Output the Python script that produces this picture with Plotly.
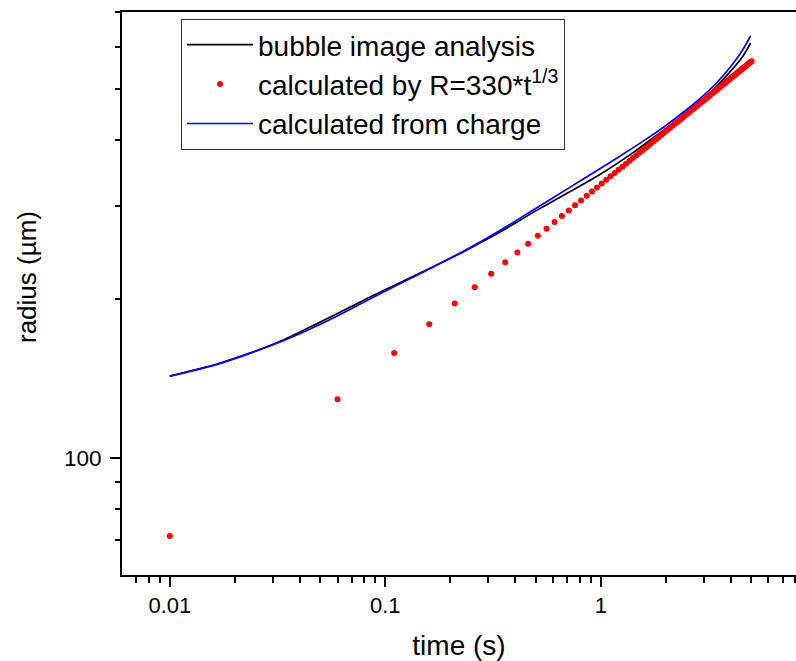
import math
import plotly.graph_objects as go

# ---- data ----
time_image = [0.01, 0.01644, 0.0235, 0.0336, 0.048, 0.0685, 0.0818, 0.1167, 0.1667, 0.2382,
              0.3404, 0.4853, 0.6934, 0.9908, 1.413, 1.690, 2.021, 2.413, 2.884, 3.451,
              4.121, 4.581, 4.961]
radius_image = [142.9, 150.5, 158.0, 167.3, 179.5, 193.0, 200.2, 214.8, 230.3, 247.6,
                267.9, 292.0, 317.0, 344.6, 379.0, 399.9, 421.4, 445.3, 473.0, 506.5,
                547.9, 578.6, 611.5]

time_charge = [0.01, 0.01644, 0.0235, 0.0336, 0.048, 0.0685, 0.0818, 0.1167, 0.1667, 0.2382,
               0.3404, 0.4853, 0.6934, 0.9908, 1.413, 1.690, 2.021, 2.413, 2.884, 3.451,
               4.121, 4.581, 4.961]
radius_charge = [142.9, 150.3, 157.8, 166.7, 177.8, 191.2, 198.6, 213.8, 230.1, 248.3,
                 269.8, 295.1, 322.8, 353.2, 387.3, 406.4, 427.6, 451.9, 479.7, 514.0,
                 559.8, 595.7, 631.0]

time_fit = [0.01, 0.06, 0.11, 0.16, 0.21, 0.26, 0.31, 0.36, 0.41, 0.46,
            0.51, 0.56, 0.61, 0.66, 0.71, 0.76, 0.81, 0.86, 0.91, 0.96,
            1.01, 1.06, 1.11, 1.16, 1.21, 1.26, 1.31, 1.36, 1.41, 1.46,
            1.51, 1.56, 1.61, 1.66, 1.71, 1.76, 1.81, 1.86, 1.91, 1.96,
            2.01, 2.06, 2.11, 2.16, 2.21, 2.26, 2.31, 2.36, 2.41, 2.46,
            2.51, 2.56, 2.61, 2.66, 2.71, 2.76, 2.81, 2.86, 2.91, 2.96,
            3.01, 3.06, 3.11, 3.16, 3.21, 3.26, 3.31, 3.36, 3.41, 3.46,
            3.51, 3.56, 3.61, 3.66, 3.71, 3.76, 3.81, 3.86, 3.91, 3.96,
            4.01, 4.06, 4.11, 4.16, 4.21, 4.26, 4.31, 4.36, 4.41, 4.46,
            4.51, 4.56, 4.61, 4.66, 4.71, 4.76, 4.81, 4.86, 4.91, 4.96,
            5.01]
radius_fit = [71.1, 129.2, 158.1, 179.2, 196.2, 210.6, 223.3, 234.8, 245.2, 254.7,
              263.7, 272.0, 279.9, 287.3, 294.4, 301.1, 307.6, 313.8, 319.8, 325.5,
              331.1, 336.5, 341.7, 346.7, 351.6, 356.4, 361.1, 365.6, 370.0, 374.4,
              378.6, 382.7, 386.8, 390.7, 394.6, 398.4, 402.2, 405.8, 409.4, 413.0,
              416.5, 419.9, 423.3, 426.6, 429.8, 433.1, 436.2, 439.4, 442.4, 445.5,
              448.5, 451.4, 454.3, 457.2, 460.1, 462.9, 465.7, 468.4, 471.1, 473.8,
              476.5, 479.1, 481.7, 484.3, 486.8, 489.3, 491.8, 494.3, 496.7, 499.1,
              501.5, 503.9, 506.2, 508.6, 510.9, 513.1, 515.4, 517.7, 519.9, 522.1,
              524.3, 526.5, 528.6, 530.7, 532.9, 535.0, 537.0, 539.1, 541.2, 543.2,
              545.2, 547.2, 549.2, 551.2, 553.2, 555.1, 557.1, 559.0, 560.9, 562.8,
              564.7]

x_major = [0.01, 0.1, 1]
x_major_text = ["0.01", "0.1", "1"]
x_minor = [0.007, 0.008, 0.009,
           0.02, 0.03, 0.04, 0.05, 0.06, 0.07, 0.08, 0.09,
           0.2, 0.3, 0.4, 0.5, 0.6, 0.7, 0.8, 0.9,
           2, 3, 4, 5, 6, 7, 8]
y_major = [100]
y_major_text = ["100"]
y_minor = [70, 80, 90, 200, 300, 400, 500, 600, 700]

FONT = "Liberation Sans, Arial, sans-serif"

W, H = 796, 661
ML, MR, MT, MB = 122, 0, 12, 86

fig = go.Figure()
fig.add_trace(go.Scatter(x=time_image, y=radius_image, mode="lines",
                         line=dict(color="black", width=1.7, shape="spline", smoothing=0.6),
                         name="bubble image analysis"))
fig.add_trace(go.Scatter(x=time_fit, y=radius_fit, mode="markers",
                         marker=dict(color="#ff0000", size=6, line=dict(width=0)),
                         name="calculated by R=330*t<sup>1/3</sup>"))
fig.add_trace(go.Scatter(x=time_charge, y=radius_charge, mode="lines",
                         line=dict(color="#0000ff", width=1.7, shape="spline", smoothing=0.6),
                         name="calculated from charge"))

plot_w = W - ML - MR
plot_h = H - MT - MB

fig.update_layout(
    width=W, height=H,
    margin=dict(l=ML, r=MR, t=MT, b=MB, autoexpand=False),
    paper_bgcolor="white", plot_bgcolor="white",
    font=dict(family=FONT, color="black"),
    showlegend=True,
    legend=dict(x=(181 - ML) / plot_w, y=(H - MB - 19) / plot_h,
                xanchor="left", yanchor="top",
                bgcolor="white", bordercolor="#333333", borderwidth=1,
                font=dict(size=28, family=FONT, color="black"),
                itemwidth=66),
    xaxis=dict(type="log", range=[math.log10(0.006), math.log10(8.05)],
               automargin=False,
               showline=True, linecolor="black", linewidth=2, mirror=True,
               showgrid=False, zeroline=False,
               ticks="outside", ticklen=10, tickwidth=2, tickcolor="black",
               tickmode="array", tickvals=x_major, ticktext=x_major_text,
               tickfont=dict(size=22, family=FONT),
               minor=dict(tickmode="array", tickvals=x_minor, ticks="outside",
                          ticklen=6, tickwidth=2, tickcolor="black", showgrid=False),
               title=dict(text="time (s)", font=dict(size=28, family=FONT), standoff=20)),
    yaxis=dict(type="log", range=[math.log10(60), math.log10(700)],
               automargin=False,
               showline=True, linecolor="black", linewidth=2,
               showgrid=False, zeroline=False,
               ticks="outside", ticklen=10, tickwidth=2, tickcolor="black",
               tickmode="array", tickvals=y_major, ticktext=y_major_text,
               tickfont=dict(size=22.5, family=FONT), ticklabelstandoff=4,
               minor=dict(tickmode="array", tickvals=y_minor, ticks="outside",
                          ticklen=5, tickwidth=2, tickcolor="black", showgrid=False)),
    annotations=[dict(text="radius (µm)", textangle=-90,
                      x=(27 - ML) / plot_w, y=(H - MB - 277) / plot_h,
                      xref="paper", yref="paper", xanchor="center", yanchor="middle",
                      showarrow=False,
                      font=dict(size=26, family=FONT, color="black"))],
)

fig.write_html("out.html", config={"displayModeBar": False},
               post_script="document.body.style.margin='0';document.body.style.padding='0';")
